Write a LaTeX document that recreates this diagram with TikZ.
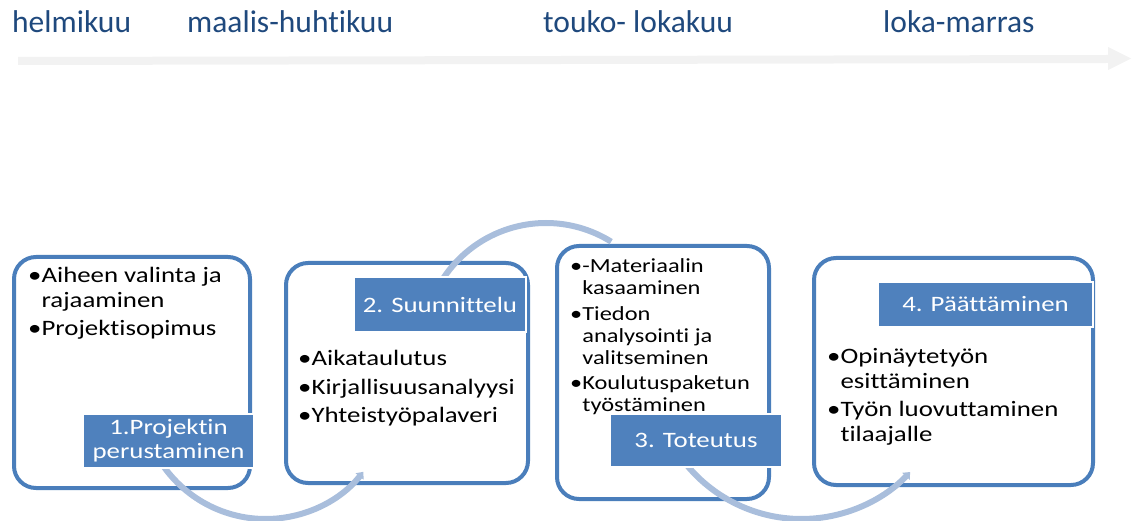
\documentclass[tikz,border=0pt]{standalone}
\usepackage{fontspec}
\setmainfont{Carlito}
\newfontfamily\boxfont[FakeStretch=1.22, Ligatures=NoCommon]{Carlito}
\newfontfamily\monthfont[Ligatures=NoCommon]{Carlito}
\usetikzlibrary{arrows.meta}
\definecolor{phaseblue}{HTML}{4F81BD}
\definecolor{rimblue}{HTML}{4A7EBB}
\definecolor{loopblue}{HTML}{A9BEDC}
\definecolor{monthblue}{HTML}{1F497D}
\definecolor{timegray}{HTML}{F2F2F2}

\begin{document}
\begin{tikzpicture}[x=1pt, y=-1pt, phase/.style={
		% The shape:
		rectangle, rounded corners=22pt,
		% The border
		line width=4pt, draw=rimblue,
		% The filling
		fill=white, inner sep=0pt},
	phaselabel/.style={
		% The shape:
		rectangle, inner sep=0pt,
		% The border
		line width=1.2pt, draw=white,
		% The filling
		fill=phaseblue, text=white, align=center,
		font=\boxfont\fontsize{22}{24}\selectfont},
	steps/.style={anchor=base west, inner sep=0pt,
		font=\boxfont\fontsize{22}{25}\selectfont},
	month/.style={anchor=base west, inner sep=0pt, text=monthblue,
		font=\monthfont\fontsize{31.5}{36}\selectfont},
	turn/.style={line width=6pt, draw=loopblue}]
    \useasboundingbox (0,0) rectangle (1133,521);

    % time line
    \fill [timegray] (18,57) -- (1108,55) -- (1108,47) -- (1131,58.5)
      -- (1108,70) -- (1108,63) -- (18,65) -- cycle;
    \foreach \x/\month [count=\i] in {12/helmikuu, 187/maalis-huhtikuu,
      543/touko- lokakuu, 883/loka-marras}{
      \node [month] (month\i) at (\x,32.7) {\month};
    }

    % phase boxes
    \foreach \i/\x/\y/\w/\h in {1/132/372.5/236/231, 2/407/373/242/220,
      3/663/372.5/212/253, 4/953.5/371.5/279/227}{
      \node [phase, minimum width=\w pt, minimum height=\h pt] (box\i) at (\x,\y) {};
    }

    % turning arcs
    \coordinate (hub12) at (265.5,394);
    \coordinate (hub23) at (546,346);
    \coordinate (hub34) at (801.5,370);
    \draw [turn, -{Triangle[length=6pt,width=10pt]}] ([shift={(150:125)}]hub12)
      arc [start angle=150, end angle=38.5, radius=125];
    \draw [turn] ([shift={(-150:123)}]hub23)
      arc [start angle=-150, end angle=-58, radius=123];
    \draw [turn, -{Triangle[length=6pt,width=10pt]}] ([shift={(142:149)}]hub34)
      arc [start angle=142, end angle=43.2, radius=149];

    % box texts
    \node [steps] (list1) at (28,283) {\parbox[t]{215pt}{%
      •Aiheen valinta ja\\\phantom{•}rajaaminen\\[3pt]•Projektisopimus}};
    \node [steps] (list2) at (298,366) {\parbox[t]{225pt}{%
      •Aikataulutus\\[3.5pt]•Kirjallisuusanalyysi\\[3pt]•Yhteistyöpalaveri}};
    \node [steps, font=\boxfont\fontsize{20}{22}\selectfont] (list3) at (570,273) {\parbox[t]{195pt}{%
      •-Materiaalin\\\phantom{•}kasaaminen\\[4pt]•Tiedon\\\phantom{•}analysointi ja\\%
      \phantom{•}valitseminen\\[3pt]•Koulutuspaketun\\\phantom{•}työstäminen}};
    \node [steps] (list4) at (827,363) {\parbox[t]{255pt}{%
      •Opinäytetyön\\\phantom{•}esittäminen\\[3pt]•Työn luovuttaminen\\\phantom{•}tilaajalle}};

    % phase labels
    \node [phaselabel, minimum width=171pt, minimum height=54pt] (lab1) at (168.5,441)
      {1.Projektin\\perustaminen};
    \node [phaselabel, minimum width=172pt, minimum height=55pt] (lab2) at (440,304.5)
      {2. Suunnittelu};
    \node [phaselabel, minimum width=172pt, minimum height=53pt] (lab3) at (696,440.5)
      {3. Toteutus};
    \node [phaselabel, minimum width=215pt, minimum height=45pt] (lab4) at (985.5,304.5)
      {4. Päättäminen};

    \end{tikzpicture}
\end{document}
